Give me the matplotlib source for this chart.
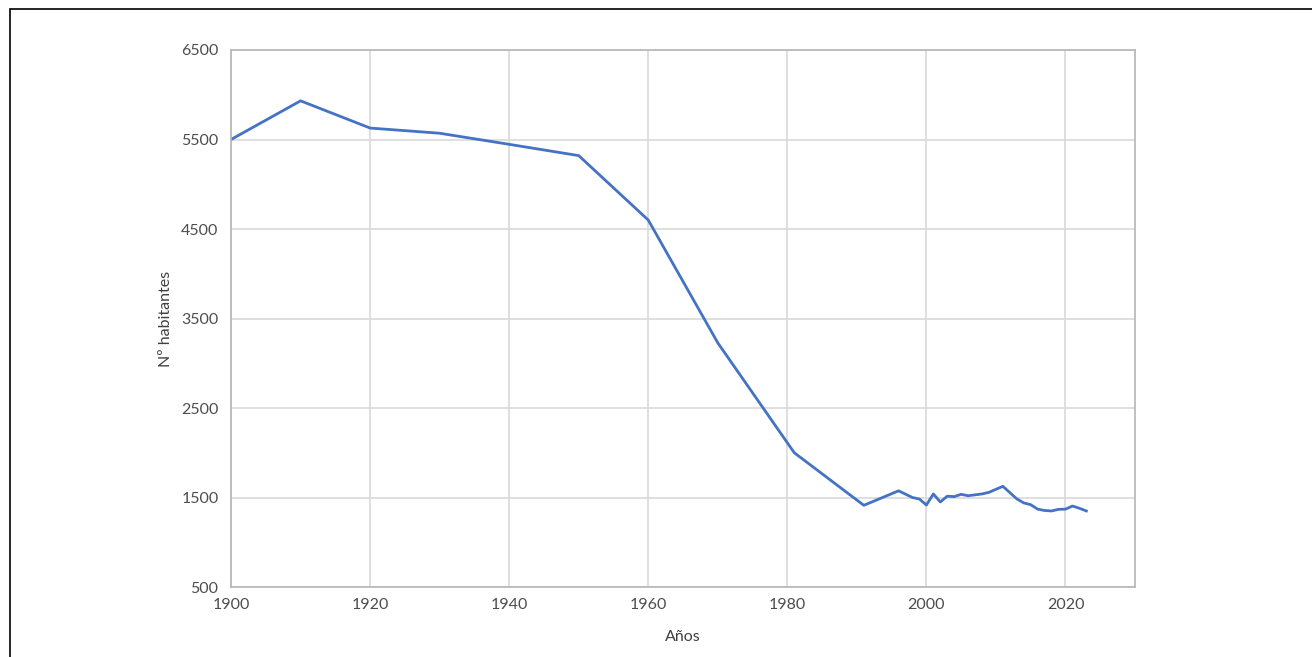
import matplotlib.pyplot as plt
from matplotlib.patches import Rectangle

# Population series
years = [1900, 1910, 1920, 1930, 1940, 1950, 1960, 1970, 1981, 1991,
         1996, 1998, 1999, 2000, 2001, 2002, 2003, 2004, 2005, 2006,
         2007, 2008, 2009, 2010, 2011, 2012, 2013, 2014, 2015, 2016,
         2017, 2018, 2019, 2020, 2021, 2022, 2023]
habitantes = [5500, 5932, 5628, 5570, 5446, 5320, 4600, 3228, 2000, 1413,
              1575, 1500, 1483, 1416, 1540, 1450, 1515, 1510, 1536, 1520,
              1530, 1540, 1558, 1592, 1625, 1555, 1485, 1440, 1420, 1370,
              1355, 1350, 1368, 1370, 1405, 1380, 1350]

x_ticks = [1900, 1920, 1940, 1960, 1980, 2000, 2020]
y_ticks = [500, 1500, 2500, 3500, 4500, 5500, 6500]

plt.rcParams['font.family'] = ['Lato', 'DejaVu Sans']

fig = plt.figure(figsize=(13.12, 6.57), dpi=100)
ax = fig.add_axes([0.1761, 0.1065, 0.689, 0.8174])

ax.plot(years, habitantes, color='#4472C4', linewidth=2.0, solid_joinstyle='round')

ax.set_xlim(1900, 2030)
ax.set_ylim(500, 6500)
ax.set_xticks(x_ticks)
ax.set_yticks(y_ticks)
ax.grid(True, color='#d9d9d9', linewidth=1.2)
ax.set_axisbelow(True)
ax.tick_params(length=0, labelsize=11.5, labelcolor='#4d4d4d')
ax.tick_params(axis='x', pad=8)
ax.tick_params(axis='y', pad=9)
for s in ax.spines.values():
    s.set_color('#b5b5b5')
    s.set_linewidth(1.2)

ax.set_xlabel('Años', fontsize=11.5, color='#404040', labelpad=13)
ax.set_ylabel('Nº habitantes', fontsize=11.5, color='#404040', labelpad=6)

# black frame around the figure (cropped on the right and bottom)
fig.patches.append(Rectangle((10 / 1312, -0.05), 1.2, 1 - 9 / 657 + 0.05,
                             transform=fig.transFigure, fill=False,
                             edgecolor='black', linewidth=1.2))

fig.savefig('out.png', dpi=100)
